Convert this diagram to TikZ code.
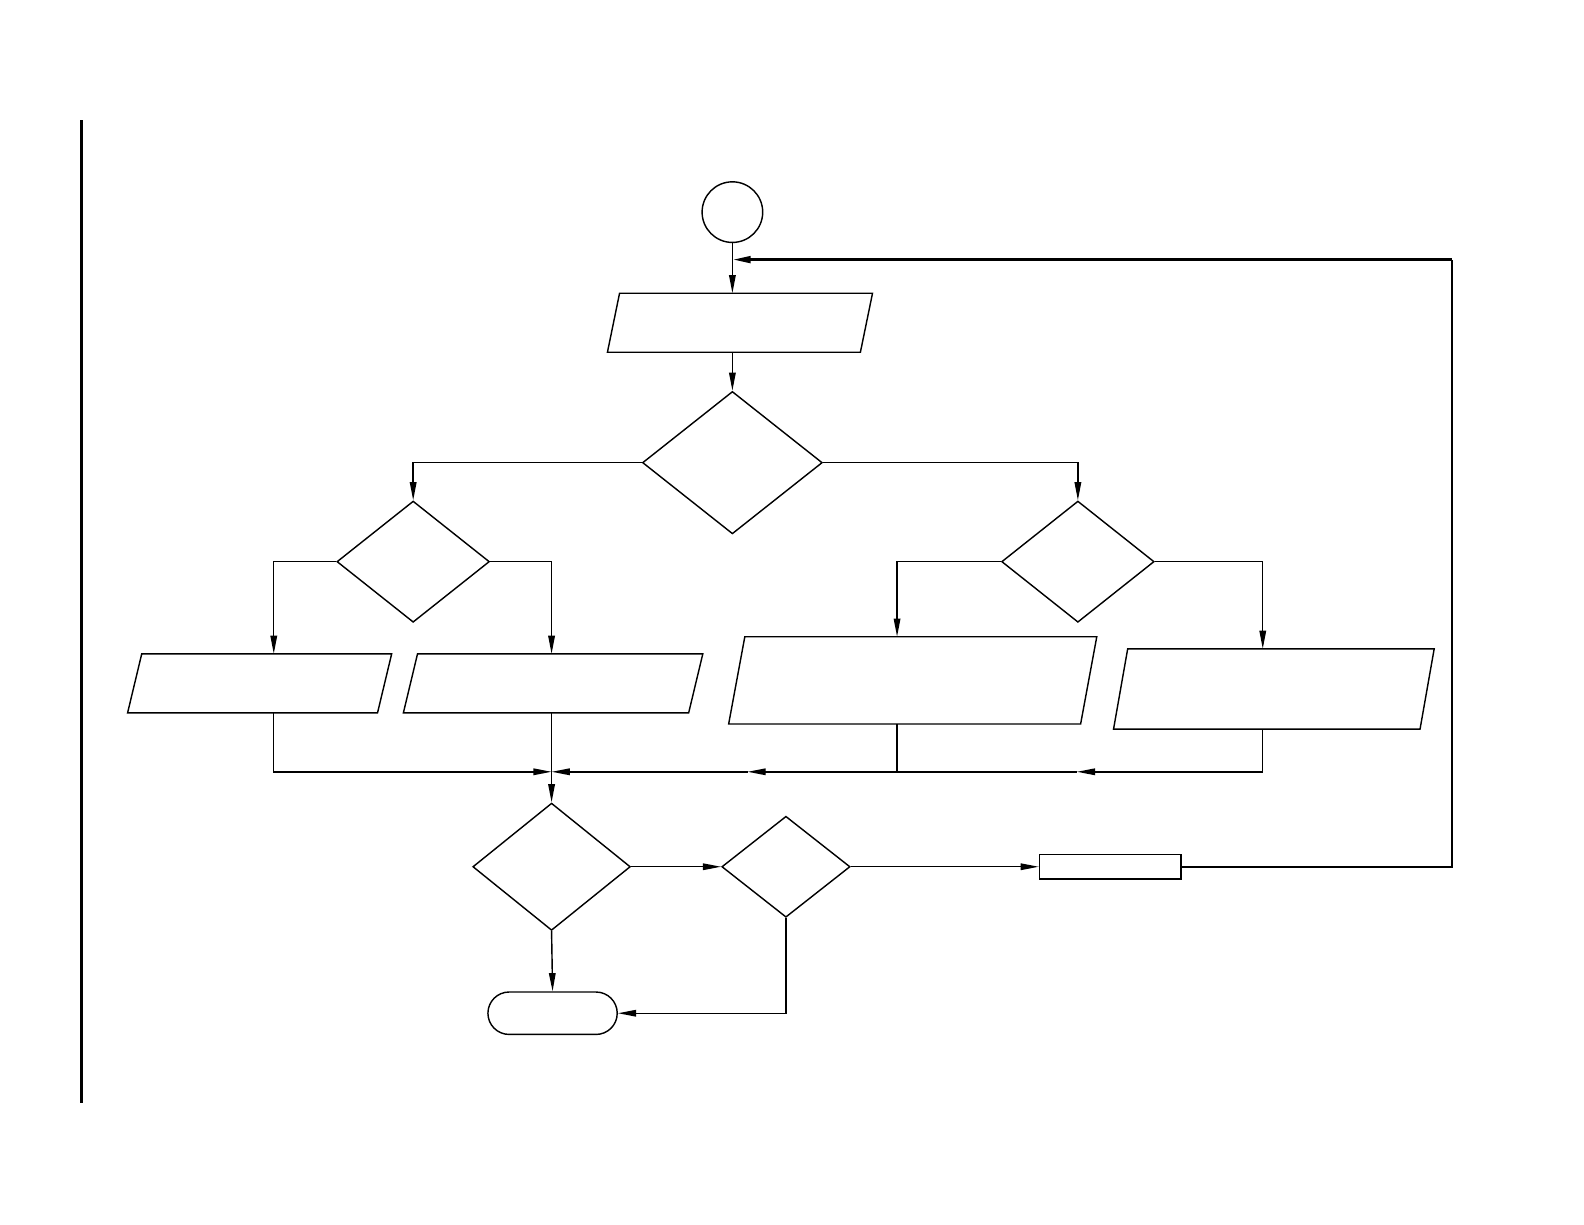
\documentclass[tikz,border=0pt]{standalone}
\usetikzlibrary{shapes.geometric,shapes.misc,arrows.meta}

\tikzset{
  flow/.style={line width=0.4pt},
  io/.style={rectangle, inner sep=0pt, minimum height=#1},
  io/.default=5.7mm,
  decide/.style={draw, flow, diamond, inner sep=0pt},
  proc/.style={draw, flow, rectangle, inner sep=0pt},
  term/.style={draw, flow, rounded rectangle, inner sep=0pt},
}
% slanted outline round an io node: #1 name, #2 half of the slant
\newcommand{\ioframe}[2]{%
  \draw ([xshift=#2]#1.north west) -- ([xshift=#2]#1.north east)
    -- ([xshift=-#2]#1.south east) -- ([xshift=-#2]#1.south west) -- cycle;}

\begin{document}
\begin{tikzpicture}[x=0.1mm, y=-0.1mm, >={Triangle[length=1.8mm,width=0.65mm]}, flow]
  \useasboundingbox (0,0) rectangle (1568,1212);
  \draw[line width=0.8pt] (81,119) -- (81,1092);

  % shapes
  \node[draw, circle, inner sep=0pt, minimum size=6mm] (start) at (725,210) {};
  \node[io, minimum width=24.9mm] (in) at (732.5,319.5) {};
  \node[decide, minimum width=17.8mm, minimum height=14.1mm] (dec1) at (725,458) {};
  \node[decide, minimum width=15.1mm, minimum height=12mm] (dec2) at (409,556) {};
  \node[decide, minimum width=15.1mm, minimum height=12mm] (dec3) at (1067,556) {};
  \node[io, minimum width=24.6mm] (outA) at (257,676.5) {};
  \node[io, minimum width=28.1mm] (outB) at (547.5,676.5) {};
  \node[io=8.5mm, minimum width=34.7mm] (outC) at (903.5,673.5) {};
  \node[io=7.8mm, minimum width=30.2mm] (outD) at (1261,682) {};
  \node[decide, minimum width=15.6mm, minimum height=12.6mm] (dec4) at (546,858) {};
  \node[decide, minimum width=12.7mm, minimum height=10mm] (dec5) at (778,858) {};
  \node[proc, minimum width=14mm, minimum height=2.4mm] (step) at (1099,858) {};
  \node[term, minimum width=12.8mm, minimum height=4.2mm] (stop) at (547,1003) {};
  \ioframe{in}{0.6mm}
  \ioframe{outA}{0.7mm}
  \ioframe{outB}{0.7mm}
  \ioframe{outC}{0.8mm}
  \ioframe{outD}{0.7mm}

  \coordinate (join) at (546,764);
  \coordinate (midC) at (888,764);
  \coordinate (tipC) at (740,764);
  \coordinate (tipD) at (1066,764);
  \coordinate (back) at (725,257);
  \coordinate (loop) at (1437,257);

  % connectors
  \draw[->] (start.south) -- (start.south |- in.north);
  \draw[->] (in.south -| dec1.north) -- (dec1.north);
  \draw[->] (dec1.west) -| (dec2.north);
  \draw[->] (dec1.east) -| (dec3.north);
  \draw[->] (dec2.west) -| ([xshift=1.4mm]outA.north);
  \draw[->] (dec2.east) -| (outB.north -| dec4.north);
  \draw[->] (dec3.west) -| (outC.north -| midC);
  \draw[->] (dec3.east) -| ([xshift=-1.1mm]outD.north);

  \draw[->] ([xshift=1.4mm]outA.south) |- (join);
  \draw[->] (outB.south -| dec4.north) -- (dec4.north);
  \draw (outC.south -| midC) -- (midC);
  \draw[->] (midC) -- (tipC);
  \draw[->] (tipC) -- (join);
  \draw[->] ([xshift=-1.1mm]outD.south) |- (tipD);
  \draw (tipD) -- (midC);

  \draw[->] (dec4.east) -- (dec5.west);
  \draw[->] (dec5.east) -- (step.west);
  \draw[->] (dec4.south) -- (stop.north);
  \draw[->] (dec5.south) |- (stop.east);
  \draw[line width=0.5pt] (step.east) -| (loop);
  \draw[->, line width=0.8pt] (loop) -- (back);
\end{tikzpicture}
\end{document}
